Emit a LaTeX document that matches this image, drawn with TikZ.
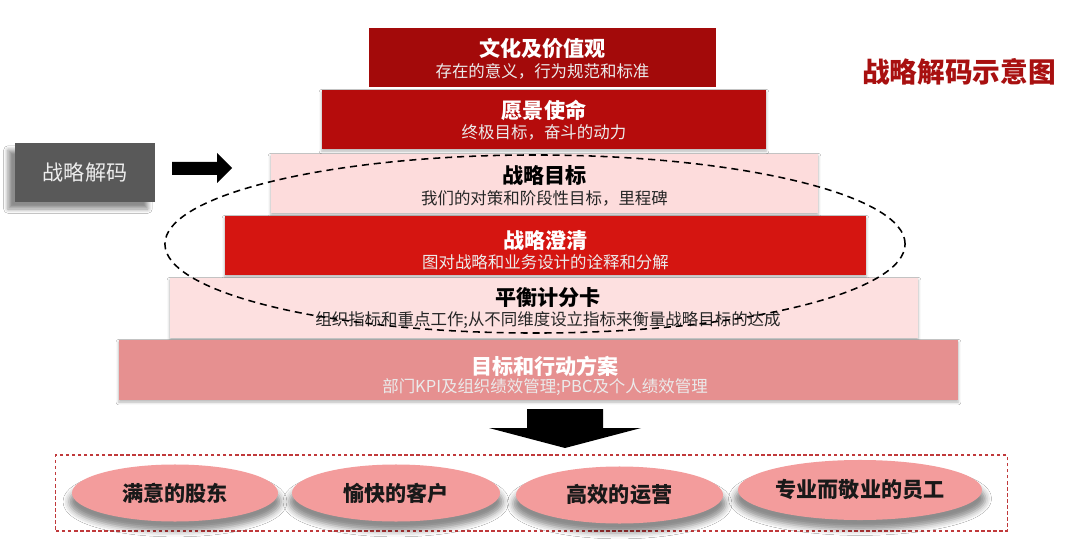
\documentclass[tikz,border=0pt]{standalone}
\usepackage{fontspec}
\setmainfont{Noto Sans CJK SC}
\usetikzlibrary{shapes.geometric,shadows.blur}
\definecolor{cA}{HTML}{A30A0A}
\definecolor{cB}{HTML}{B50C0C}
\definecolor{cC}{HTML}{FDDCDC}
\definecolor{cD}{HTML}{D51511}
\definecolor{cE}{HTML}{FDE0E0}
\definecolor{cF}{HTML}{E69090}
\definecolor{ellc}{HTML}{F39C9C}
\definecolor{titlered}{HTML}{A81010}
\definecolor{grayb}{HTML}{595959}
\definecolor{dotred}{HTML}{C0393B}
\begin{document}
\begin{tikzpicture}[x=0.025cm,y=-0.025cm,
  tier/.style={draw=none, inner sep=0pt, rectangle},
  tiershadow/.style={blur shadow={shadow xshift=0pt, shadow yshift=-1.5pt, shadow blur radius=2pt, shadow opacity=30}},
  ttl/.style={font=\bfseries\fontsize{15}{17}\selectfont, inner sep=0pt},
  sub/.style={font=\fontsize{11.7}{13}\selectfont, inner sep=0pt},
  goal/.style={ellipse, fill=ellc, inner sep=0pt, font=\bfseries\fontsize{15}{17}\selectfont, text=black!90,
     blur shadow={shadow xshift=0pt, shadow yshift=-6pt, shadow blur radius=4pt, shadow opacity=45, shadow scale=1.03}},
  blockarrow/.style={fill=black}]
\useasboundingbox (0,0) rectangle (1080,551);
\fill[white] (0,0) rectangle (1080,551);

% tiers
\node[tier, fill=cA, minimum width={347*0.7113pt}, minimum height={59*0.7113pt}] (b1) at (542.5,57.5) {};
\node[tier, tiershadow, fill=cB, minimum width={444*0.7113pt}, minimum height={59*0.7113pt}] (b2) at (544,119.5) {};
\node[tier, tiershadow, fill=cC, minimum width={547*0.7113pt}, minimum height={59*0.7113pt}] (b3) at (544.5,183.5) {};
\node[tier, tiershadow, fill=cD, minimum width={641*0.7113pt}, minimum height={59*0.7113pt}] (b4) at (545.5,245.5) {};
\node[tier, tiershadow, fill=cE, minimum width={748*0.7113pt}, minimum height={60*0.7113pt}] (b5) at (544,308) {};
\node[tier, tiershadow, fill=cF, minimum width={839*0.7113pt}, minimum height={60*0.7113pt}] (b6) at (538.5,370) {};

\node[ttl, text=white] (t1) at (542.5,48) {文化及价值观};
\node[sub, text=white!92!black] (s1) at (542.5,71) {存在的意义，行为规范和标准};
\node[ttl, text=white] (t2) at (544,110) {愿景使命};
\node[sub, text=white!92!black] (s2) at (544,132) {终极目标，奋斗的动力};
\node[ttl, text=black] (t3) at (544.5,175) {战略目标};
\node[sub, text=black!85] (s3) at (544.5,198) {我们的对策和阶段性目标，里程碑};
\node[ttl, text=white] (t4) at (545.5,240) {战略澄清};
\node[sub, text=white!92!black] (s4) at (545.5,262) {图对战略和业务设计的诠释和分解};
\node[ttl, text=black] (t5) at (548,298) {平衡计分卡};
\node[sub, text=black!85] (s5) at (548,320) {组织指标和重点工作;从不同维度设立指标来衡量战略目标的达成};
\node[ttl, text=white] (t6) at (545,366) {目标和行动方案};
\node[sub, text=white!92!black] (s6) at (545,387) {部门KPI及组织绩效管理;PBC及个人绩效管理};

% focus ellipse
\node[draw=black, line width=1.1pt, dash pattern=on 5pt off 3.5pt, ellipse, inner sep=0pt,
  minimum width={740*0.7113pt}, minimum height={178*0.7113pt}] (focus) at (535,244) {};

% left label box
\node[tier, fill=grayb, minimum width={140*0.7113pt}, minimum height={59*0.7113pt},
  blur shadow={shadow xshift=-5pt, shadow yshift=-5pt, shadow blur radius=3pt, shadow opacity=45},
  text=white!93!black, font=\fontsize{15}{17}\selectfont] (decode) at (85,172.5) {战略解码};

% right block arrow
\fill[blockarrow] (172,162) -- (217,162) -- (217,153) -- (232,168) -- (217,183) -- (217,175) -- (172,175) -- cycle;

% title
\node[font=\bfseries\fontsize{19.7}{22}\selectfont, text=titlered, inner sep=0pt] (title) at (959,72) {战略解码示意图};

% down arrow
\fill[blockarrow] (527,409) -- (603,409) -- (603,428) -- (641,428) -- (565,448) -- (489,428) -- (527,428) -- cycle;

% outcome frame
\node[draw=dotred, line width=0.8pt, dash pattern=on 2.5pt off 1.8pt, inner sep=0pt, rectangle,
  minimum width={951*0.7113pt}, minimum height={76*0.7113pt}] (frame) at (531.5,493) {};

\node[goal, minimum width={206*0.7113pt}, minimum height={57*0.7113pt}] (g1) at (175,493) {满意的股东};
\node[goal, minimum width={208*0.7113pt}, minimum height={57*0.7113pt}] (g2) at (396,493) {愉快的客户};
\node[goal, minimum width={207*0.7113pt}, minimum height={57*0.7113pt}] (g3) at (619.5,495) {高效的运营};
\node[goal, minimum width={244*0.7113pt}, minimum height={60*0.7113pt}] (g4) at (860,490) {专业而敬业的员工};
\end{tikzpicture}
\end{document}
